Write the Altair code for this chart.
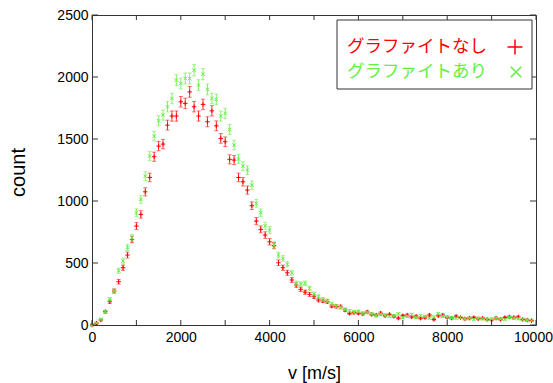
import altair as alt
import pandas as pd

# ---------------- data ----------------
velocity = [i * 100 for i in range(100)]

count_without = [
    0, 15, 40, 107, 188, 274, 349, 462, 564, 690,
    798, 892, 1074, 1190, 1357, 1443, 1459, 1612, 1685, 1685,
    1800, 1787, 1880, 1760, 1685, 1779, 1639, 1727, 1606, 1505,
    1478, 1336, 1330, 1190, 1155, 1088, 962, 838, 771, 725,
    671, 640, 502, 462, 421, 363, 322, 288, 265, 247,
    228, 201, 195, 188, 153, 150, 148, 120, 94, 100,
    95, 90, 105, 85, 80, 95, 75, 85, 70, 55,
    75, 80, 65, 70, 55, 60, 80, 45, 75, 80,
    60, 55, 70, 60, 50, 55, 60, 50, 55, 45,
    40, 55, 45, 60, 65, 60, 65, 45, 40, 35,
]

count_with = [
    0, 15, 46, 107, 207, 274, 438, 516, 626, 704,
    906, 1013, 1201, 1362, 1523, 1647, 1693, 1760, 1827, 1975,
    1948, 1988, 1988, 2055, 1934, 2023, 1900, 1827, 1819, 1685,
    1706, 1577, 1451, 1338, 1282, 1249, 1128, 981, 906, 800,
    766, 645, 564, 537, 489, 421, 336, 330, 336, 296,
    250, 228, 207, 195, 170, 153, 140, 127, 115, 105,
    110, 95, 100, 90, 75, 85, 80, 70, 75, 90,
    60, 70, 85, 60, 75, 70, 55, 65, 90, 70,
    65, 60, 55, 60, 50, 55, 45, 55, 50, 45,
    50, 55, 50, 45, 60, 55, 50, 45, 40, 35,
]

legend_labels = ["グラファイトなし", "グラファイトあり"]
x_ticks = [0, 1000, 2000, 3000, 4000, 5000, 6000, 7000, 8000, 9000, 10000]
y_ticks = [0, 500, 1000, 1500, 2000, 2500]

# ---------------- style ----------------
RED = "#ff0000"
GREEN = "#66ee44"
FRAME = "#333333"
W, H = 444, 310
FONT = "Liberation Sans"
PLUS = "M-1,0L1,0M0,-1L0,1"
CROSS = "M-1,-1L1,1M-1,1L1,-1"

XS = alt.Scale(domain=[0, 10000], nice=False, zero=False)
YS = alt.Scale(domain=[0, 2500], nice=False, zero=False)

XA = alt.Axis(
    values=x_ticks, format="d",
    labelExpr="datum.value % 2000 == 0 ? datum.label : ''",
    ticks=False, domain=False, grid=False, labelFlush=False, labelOverlap=False,
    labelFont=FONT, labelFontSize=14, labelColor="#000000", labelPadding=5,
    labelOffset={"condition": {"test": "datum.value == 10000", "value": -3}, "value": 0},
    title="v [m/s]", titleFont=FONT, titleFontSize=18, titleFontWeight="normal",
    titleColor="#000000", titleY=48, titleBaseline="middle",
)
YA = alt.Axis(
    values=y_ticks, format="d",
    ticks=False, domain=False, grid=False, labelFlush=False, labelOverlap=False,
    labelFont=FONT, labelFontSize=14, labelColor="#000000", labelPadding=4,
    title="count", titleFont=FONT, titleFontSize=20, titleFontWeight="normal",
    titleColor="#000000", titleX=-74, titleY=H / 2 + 2, titleAngle=270,
    titleAlign="center", titleBaseline="middle",
)


def xenc(field):
    return alt.X(field, type="quantitative", scale=XS, axis=XA)


def yenc(field):
    return alt.Y(field, type="quantitative", scale=YS, axis=YA)


def series(values, color, shape, size):
    df = pd.DataFrame({"v": velocity, "count": values})
    base = alt.Chart(df).transform_calculate(
        lo="datum.count - sqrt(datum.count)",
        hi="datum.count + sqrt(datum.count)",
    )
    bars = base.mark_rule(color=color, strokeWidth=1, opacity=0.8).encode(
        x=xenc("v"), y=yenc("lo"), y2="hi:Q"
    )
    cap_lo = base.mark_tick(orient="horizontal", size=4, thickness=1,
                            color=color, opacity=0.55).encode(x=xenc("v"), y=yenc("lo"))
    cap_hi = base.mark_tick(orient="horizontal", size=4, thickness=1,
                            color=color, opacity=0.55).encode(x=xenc("v"), y=yenc("hi"))
    pts = base.mark_point(shape=shape, size=size, filled=False, color=color,
                          strokeWidth=1, opacity=1).encode(x=xenc("v"), y=yenc("count"))
    return [bars, cap_lo, cap_hi, pts]


# inward ticks on all four sides
xt = pd.DataFrame({"t": x_ticks})
yt = pd.DataFrame({"t": y_ticks})
tick_bottom = alt.Chart(xt).mark_rule(color=FRAME, strokeWidth=1).encode(
    x=xenc("t"), y=alt.value(H), y2=alt.value(H - 5))
tick_top = alt.Chart(xt).mark_rule(color=FRAME, strokeWidth=1).encode(
    x=xenc("t"), y=alt.value(0), y2=alt.value(5))
tick_left = alt.Chart(yt).mark_rule(color=FRAME, strokeWidth=1).encode(
    y=yenc("t"), x=alt.value(0), x2=alt.value(6))
tick_right = alt.Chart(yt).mark_rule(color=FRAME, strokeWidth=1).encode(
    y=yenc("t"), x=alt.value(W), x2=alt.value(W - 6))

# legend (drawn by hand: label first, symbol on the right)
one = pd.DataFrame({"k": [0]})
leg_box = alt.Chart(one).mark_rect(fill="white", stroke=FRAME, strokeWidth=1).encode(
    x=alt.value(245), x2=alt.value(440), y=alt.value(5), y2=alt.value(74))
leg_t1 = alt.Chart(pd.DataFrame({"label": [legend_labels[0]]})).mark_text(
    align="left", baseline="middle", font="Noto Sans CJK JP", fontSize=17.5, color=RED
).encode(x=alt.value(255), y=alt.value(32), text="label:N")
leg_t2 = alt.Chart(pd.DataFrame({"label": [legend_labels[1]]})).mark_text(
    align="left", baseline="middle", font="Noto Sans CJK JP", fontSize=17.5, color=GREEN
).encode(x=alt.value(255), y=alt.value(57), text="label:N")
leg_s1 = alt.Chart(one).mark_point(shape=PLUS, size=225, filled=False, color=RED,
                                   strokeWidth=1.5, opacity=1).encode(
    x=alt.value(423), y=alt.value(32))
leg_s2 = alt.Chart(one).mark_point(shape=CROSS, size=110, filled=False, color=GREEN,
                                   strokeWidth=1.5, opacity=1).encode(
    x=alt.value(424), y=alt.value(57))

layers = (
    series(count_without, RED, PLUS, 20)
    + series(count_with, GREEN, CROSS, 12)
    + [tick_bottom, tick_top, tick_left, tick_right,
       leg_box, leg_t1, leg_t2, leg_s1, leg_s2]
)

chart = alt.layer(*layers).properties(
    width=W, height=H,
    autosize=alt.AutoSizeParams(type="none"),
    padding={"left": 92, "top": 15, "right": 17, "bottom": 58},
    background="white",
).configure_view(stroke=FRAME, strokeWidth=1)

chart.save("out.html", embed_options={"renderer": "svg", "actions": False})
